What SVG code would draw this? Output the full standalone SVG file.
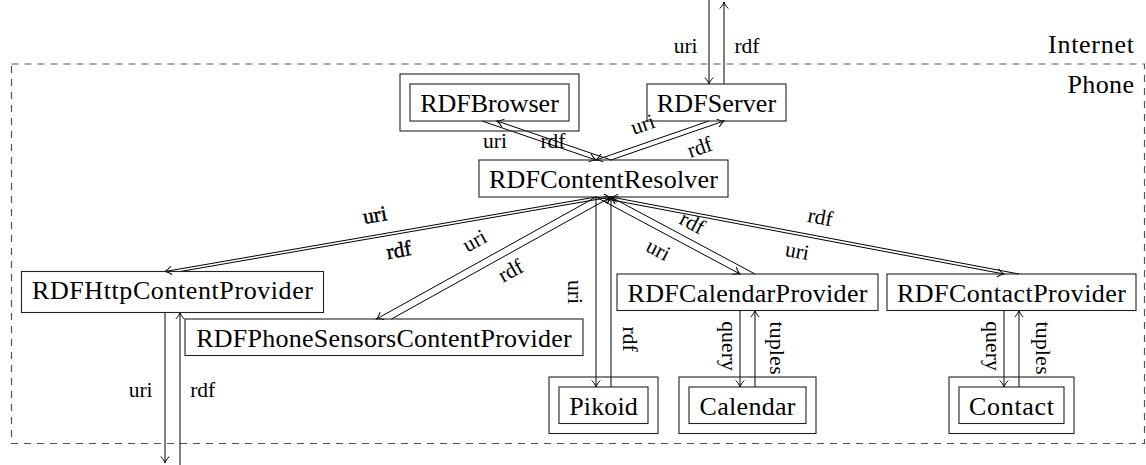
<svg xmlns="http://www.w3.org/2000/svg" width="1146" height="465" viewBox="0 0 1146 465">
<defs>
<marker id="ah" markerUnits="userSpaceOnUse" orient="auto" refX="0" refY="0" markerWidth="10" markerHeight="10" overflow="visible">
<path d="M-6.5,-4.2 C-4,-1.8 -1.6,-0.5 0,0 C-1.6,0.5 -4,1.8 -6.5,4.2" fill="none" stroke="#000" stroke-width="1"/>
</marker>
<style>
.box{fill:none;stroke:#222;stroke-width:1.1}
.nt{font-family:"Liberation Serif","Times New Roman",serif;font-size:26px;fill:#000;text-anchor:middle}
.lb{font-family:"Liberation Serif","Times New Roman",serif;font-size:21.5px;fill:#000;text-anchor:middle}
.ln{fill:none;stroke:#000;stroke-width:1}
.ar{marker-end:url(#ah)}
.bd{stroke:#000;stroke-width:0.45}
</style>
</defs>
<rect width="1146" height="465" fill="#fff"/>
<g id="region">
<rect x="11.5" y="64" width="1133" height="379.5" fill="none" stroke="#555" stroke-width="1.2" stroke-dasharray="7 6"/>
<text x="1134" y="53" class="nt" style="text-anchor:end" textLength="86">Internet</text>
<text x="1134" y="93" class="nt" style="text-anchor:end" textLength="66.5">Phone</text>
</g>
<g id="connectors">
<line class="ln ar" x1="709" y1="0" x2="709" y2="84"/>
<line class="ln ar" x1="724" y1="84" x2="724" y2="2"/>
<line class="ln ar" x1="482" y1="121" x2="596" y2="160"/>
<line class="ln ar" x1="611" y1="160" x2="497" y2="121"/>
<line class="ln ar" x1="611" y1="160" x2="724" y2="121"/>
<line class="ln ar" x1="709" y1="121" x2="596" y2="160"/>
<line class="ln ar" x1="596" y1="197" x2="165" y2="271.5"/>
<line class="ln ar" x1="180" y1="271.5" x2="611" y2="197"/>
<line class="ln ar" x1="596" y1="197" x2="376.5" y2="319"/>
<line class="ln ar" x1="391.5" y1="319" x2="611" y2="197"/>
<line class="ln ar" x1="596" y1="197" x2="596" y2="387"/>
<line class="ln ar" x1="611" y1="387" x2="611" y2="197"/>
<line class="ln ar" x1="596" y1="197" x2="740" y2="274"/>
<line class="ln ar" x1="755" y1="274" x2="611" y2="197"/>
<line class="ln ar" x1="596" y1="197" x2="1004" y2="274"/>
<line class="ln ar" x1="1019" y1="274" x2="611" y2="197"/>
<line class="ln ar" x1="740" y1="310.5" x2="740" y2="387"/>
<line class="ln ar" x1="755" y1="387" x2="755" y2="310.5"/>
<line class="ln ar" x1="1004" y1="310.5" x2="1004" y2="387"/>
<line class="ln ar" x1="1019" y1="387" x2="1019" y2="310.5"/>
<line class="ln ar" x1="165" y1="312.5" x2="165" y2="463"/>
<line class="ln ar" x1="180" y1="465" x2="180" y2="312.5"/>
<text class="lb" x="685.6" y="53">uri</text>
<text class="lb" x="747" y="53">rdf</text>
<text class="lb" x="495" y="148">uri</text>
<text class="lb" x="553" y="148">rdf</text>
<text class="lb" transform="translate(645,131) rotate(-19)">uri</text>
<text class="lb" transform="translate(702,154) rotate(-19)">rdf</text>
<text class="lb bd" transform="translate(376,222) rotate(-10)">uri</text>
<text class="lb bd" transform="translate(400,257) rotate(-10)">rdf</text>
<text class="lb" transform="translate(478,247) rotate(-29)">uri</text>
<text class="lb" transform="translate(514,277) rotate(-29)">rdf</text>
<text class="lb" transform="translate(568,292) rotate(90)">uri</text>
<text class="lb" transform="translate(623,339) rotate(90)">rdf</text>
<text class="lb" transform="translate(689,229) rotate(28)">rdf</text>
<text class="lb" transform="translate(655,256) rotate(28)">uri</text>
<text class="lb" transform="translate(819,224) rotate(10.7)">rdf</text>
<text class="lb" transform="translate(796,258) rotate(10.7)">uri</text>
<text class="lb" transform="translate(721.5,346) rotate(90)" textLength="49.6">query</text>
<text class="lb" transform="translate(770,348) rotate(90)" textLength="53">tuples</text>
<text class="lb" transform="translate(985.5,346) rotate(90)" textLength="49.6">query</text>
<text class="lb" transform="translate(1035.5,348) rotate(90)" textLength="53">tuples</text>
<text class="lb" x="140.6" y="397">uri</text>
<text class="lb" x="202.7" y="397">rdf</text>
</g>
<g id="RDFBrowser">
<rect class="box" x="400" y="74" width="179" height="57"/>
<rect class="box" x="410" y="84" width="159" height="37"/>
<text class="nt" x="489.5" y="111.5" textLength="138.6">RDFBrowser</text>
</g>
<g id="RDFServer">
<rect class="box" x="647" y="84" width="139" height="37"/>
<text class="nt" x="716.5" y="111.5" textLength="119.3">RDFServer</text>
</g>
<g id="RDFContentResolver">
<rect class="box" x="479" y="160" width="249" height="37"/>
<text class="nt" x="603.5" y="187.5" textLength="229">RDFContentResolver</text>
</g>
<g id="RDFHttpContentProvider">
<rect class="box" x="21.5" y="271.5" width="302" height="41"/>
<text class="nt" x="172.5" y="299" textLength="281">RDFHttpContentProvider</text>
</g>
<g id="RDFPhoneSensorsContentProvider">
<rect class="box" x="185" y="319" width="398" height="36.5"/>
<text class="nt" x="384" y="346.5" textLength="375.5">RDFPhoneSensorsContentProvider</text>
</g>
<g id="RDFCalendarProvider">
<rect class="box" x="617" y="274" width="261" height="36.5"/>
<text class="nt" x="747.5" y="301.5" textLength="240">RDFCalendarProvider</text>
</g>
<g id="RDFContactProvider">
<rect class="box" x="887" y="274" width="249" height="36.5"/>
<text class="nt" x="1011.5" y="301.5" textLength="229">RDFContactProvider</text>
</g>
<g id="Pikoid">
<rect class="box" x="549" y="377" width="109" height="56.5"/>
<rect class="box" x="559" y="387" width="89" height="36.5"/>
<text class="nt" x="603.5" y="414.5" textLength="68.5">Pikoid</text>
</g>
<g id="Calendar">
<rect class="box" x="679" y="377" width="137" height="56.5"/>
<rect class="box" x="689" y="387" width="117" height="36.5"/>
<text class="nt" x="747.5" y="414.5" textLength="96">Calendar</text>
</g>
<g id="Contact">
<rect class="box" x="949" y="377" width="125" height="56.5"/>
<rect class="box" x="959" y="387" width="105" height="36.5"/>
<text class="nt" x="1011.5" y="414.5" textLength="85">Contact</text>
</g>
</svg>
